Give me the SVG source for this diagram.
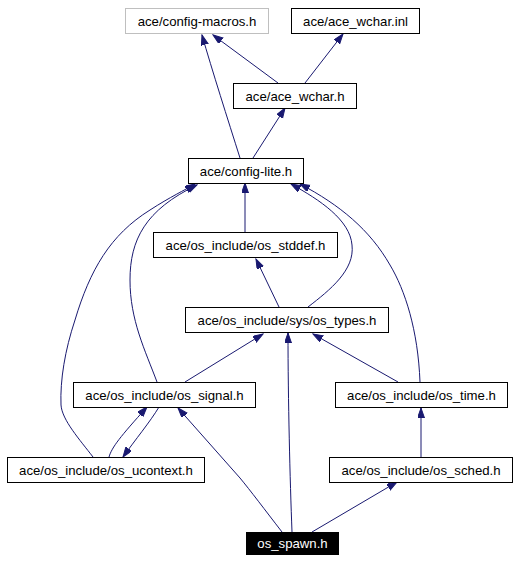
<svg xmlns="http://www.w3.org/2000/svg" width="517" height="563" viewBox="0 0 517 563">
<style>
.box{fill:#fff;stroke:#000;stroke-width:1}
.gray{stroke:#bfbfbf}
.lbl{font-family:"Liberation Sans",Arial,sans-serif;font-size:13.2px;text-anchor:middle;fill:#000}
.e{fill:none;stroke:#191970;stroke-width:1;marker-end:url(#ah)}
</style>
<defs>
<marker id="ah" markerUnits="userSpaceOnUse" markerWidth="11" markerHeight="8" refX="10" refY="3.5" orient="auto">
<path d="M0,0 L10,3.5 L0,7 z" fill="#191970" stroke="#191970" stroke-width="1"/>
</marker>
</defs>
<rect width="517" height="563" fill="#fff"/>
<g id="connectors">
<path class="e" d="M240,158 C228,120 212,70 202,35"/>
<path class="e" d="M278,83 L213,35"/>
<path class="e" d="M305,83 L343,34"/>
<path class="e" d="M253,158 L285,108"/>
<path class="e" d="M245,232 L245,183"/>
<path class="e" d="M279,307 L256,259"/>
<path class="e" d="M308,307 C330,290 355,270 352,245 C350,220 320,200 291,184"/>
<path class="e" d="M420,382 C418,330 405,290 390,265 C370,230 340,205 300,184"/>
<path class="e" d="M157,382 C145,350 130,320 130,280 C130,240 145,210 197,185"/>
<path class="e" d="M93,457 C80,440 62,420 61,405 C60,380 65,350 75,320 C90,270 110,235 150,210 C170,197 185,190 195,184"/>
<path class="e" d="M185,382 L263,334"/>
<path class="e" d="M292,532 C290,480 288,400 288,333"/>
<path class="e" d="M398,382 L313,334"/>
<path class="e" d="M421,457 L421,408"/>
<path class="e" d="M312,532 L397,482"/>
<path class="e" d="M282,532 C265,510 250,490 240,478 L178,408"/>
<path class="e" d="M109,457 C112,447 120,437 147,407"/>
<path class="e" d="M159,407 C150,422 135,440 123,457"/>
</g>
<g id="n1"><rect class="box gray" x="125.5" y="8.5" width="143" height="25"/><text class="lbl" x="197" y="25.5">ace/config-macros.h</text></g>
<g id="n2"><rect class="box" x="291.5" y="8.5" width="128" height="25"/><text class="lbl" x="355.5" y="25.5">ace/ace_wchar.inl</text></g>
<g id="n3"><rect class="box" x="233.5" y="83.5" width="123" height="25"/><text class="lbl" x="295" y="100.5">ace/ace_wchar.h</text></g>
<g id="n4"><rect class="box" x="188.5" y="158.5" width="115" height="25"/><text class="lbl" x="246" y="175.5">ace/config-lite.h</text></g>
<g id="n5"><rect class="box" x="153.5" y="232.5" width="184" height="25"/><text class="lbl" x="245.5" y="249.5">ace/os_include/os_stddef.h</text></g>
<g id="n6"><rect class="box" x="185.5" y="307.5" width="203" height="25"/><text class="lbl" x="287" y="324.5">ace/os_include/sys/os_types.h</text></g>
<g id="n7"><rect class="box" x="73.5" y="382.5" width="182" height="25"/><text class="lbl" x="164.5" y="399.5">ace/os_include/os_signal.h</text></g>
<g id="n8"><rect class="box" x="335.5" y="382.5" width="172" height="25"/><text class="lbl" x="421.5" y="399.5">ace/os_include/os_time.h</text></g>
<g id="n9"><rect class="box" x="7.5" y="457.5" width="197" height="25"/><text class="lbl" x="106" y="474.5">ace/os_include/os_ucontext.h</text></g>
<g id="n10"><rect class="box" x="329.5" y="457.5" width="183" height="25"/><text class="lbl" x="421" y="474.5">ace/os_include/os_sched.h</text></g>
<g id="n11"><rect x="246" y="532" width="93" height="23" fill="#000"/><text class="lbl" x="292.5" y="548" style="fill:#fff">os_spawn.h</text></g>
</svg>
